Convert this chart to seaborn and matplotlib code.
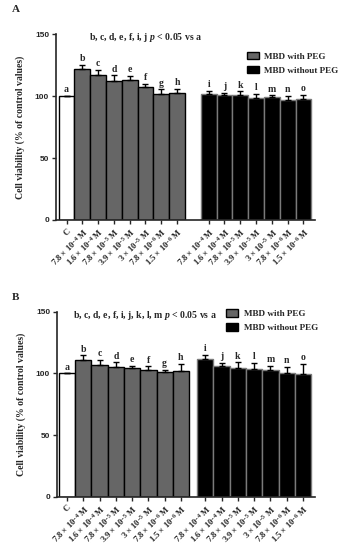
import numpy as np
import pandas as pd
import matplotlib
matplotlib.use("Agg")
import matplotlib.pyplot as plt
import matplotlib.patches as mpatches
import seaborn as sns

sns.set_style("ticks")
plt.rcParams['font.family'] = ['Liberation Serif', 'DejaVu Serif']
plt.rcParams['mathtext.fontset'] = 'custom'
plt.rcParams['mathtext.rm'] = 'Liberation Serif:bold'
plt.rcParams['mathtext.bf'] = 'Liberation Serif:bold'
plt.rcParams['mathtext.it'] = 'Liberation Serif:bold:italic'

# concentrations (same for both series)
conc = ["7.8 × 10$^{-4}$ M", "1.6 × 10$^{-4}$ M", "7.8 × 10$^{-5}$ M",
        "3.9 × 10$^{-5}$ M", "3 × 10$^{-5}$ M", "7.8 × 10$^{-6}$ M",
        "1.5 × 10$^{-6}$ M"]
tick_labels = ["C"] + conc + conc
letters = list("abcdefghijklmno")
groups = ["control"] + ["with"] * 7 + ["without"] * 7

# panel A
a_vals = [100, 122.0, 117.2, 112.4, 113.2, 107.5, 101.9, 102.4,
          101.9, 100.8, 100.5, 98.1, 98.9, 97.0, 97.3]
a_err = [0, 3.2, 3.8, 4.3, 3.2, 2.4, 3.5, 3.2,
         2.1, 1.9, 3.2, 3.5, 1.6, 3.0, 3.5]
a_note = "b, c, d, e, f, i, j $p$ < 0.05 vs a"

# panel B
b_vals = [100, 110.8, 106.7, 105.1, 104.0, 103.0, 101.3, 102.2,
          111.6, 105.6, 104.6, 103.8, 102.7, 100.6, 99.5]
b_err = [0, 3.8, 4.0, 3.8, 2.4, 2.7, 1.6, 5.6,
         3.5, 3.2, 4.3, 4.8, 3.2, 4.8, 8.0]
b_note = "b, c, d, e, f, i, j, k, l, m $p$ < 0.05 vs a"

palette = {"control": "white", "with": "#666666", "without": "black"}
edges = {"control": "black", "with": "black", "without": "#7a7a7a"}

fig = plt.figure(figsize=(3.42, 5.5), dpi=100)


def panel(rect, vals, errs, gap, note, note_x, leg_xy, xlim):
    ax = fig.add_axes(rect)
    xpos = np.array(list(range(8)) + [8 + gap + i for i in range(7)], dtype=float)
    df = pd.DataFrame({"x": xpos, "y": vals, "g": groups})
    sns.barplot(data=df, x="x", y="y", hue="g", palette=palette,
                native_scale=True, dodge=False, width=1.0, legend=False,
                errorbar=None, ax=ax)
    # edge colours per group
    for p in ax.patches:
        fc = p.get_facecolor()
        if fc[0] > 0.9:
            p.set_edgecolor(edges["control"])
        elif fc[0] > 0.2:
            p.set_edgecolor(edges["with"])
        else:
            p.set_edgecolor(edges["without"])
        p.set_linewidth(1.0)
    ax.errorbar(xpos, vals, yerr=[np.zeros(len(errs)), errs], fmt="none",
                ecolor="black", elinewidth=1.0, capsize=2.2, capthick=1.0, zorder=5)
    for x, v, e, l in zip(xpos, vals, errs, letters):
        ax.text(x, v + e + 1.5, l, ha="center", va="bottom", fontsize=7,
                fontweight="bold")
    ax.set_ylim(0, 150)
    ax.set_xlim(*xlim)
    ax.set_yticks([0, 50, 100, 150])
    ax.set_yticklabels(["0", "50", "100", "150"], family="Liberation Sans",
                       fontweight="bold", fontsize=6)
    ax.set_xticks(xpos)
    ax.set_xticklabels(tick_labels, rotation=45, ha="right",
                       rotation_mode="anchor", fontsize=6.2, fontweight="bold")
    ax.set_xlabel("")
    ax.set_ylabel("Cell viability (% of control values)", fontsize=7,
                  fontweight="bold", labelpad=7)
    ax.tick_params(axis="both", length=3, width=1, pad=2)
    sns.despine(ax=ax)
    for s in ["left", "bottom"]:
        ax.spines[s].set_linewidth(1.2)
    ax.text(note_x, 147, note, fontsize=7, fontweight="bold", va="center")
    handles = [mpatches.Patch(facecolor="#666666", edgecolor="black", label="MBD with PEG"),
               mpatches.Patch(facecolor="black", edgecolor="black", label="MBD without PEG")]
    leg = fig.legend(handles=handles, loc="upper left", bbox_to_anchor=leg_xy,
                     bbox_transform=fig.transFigure,
                     frameon=False, fontsize=6.6, handlelength=1.3, handleheight=0.9,
                     handletextpad=0.6, labelspacing=0.55, borderaxespad=0,
                     borderpad=0)
    for t in leg.get_texts():
        t.set_fontweight("bold")
    return ax


panel([0.164, 0.6, 0.757, 0.338], a_vals, a_err, 1.0, a_note, 1.4,
      (0.722, 0.906), (-0.66, 15.73))
panel([0.167, 0.0964, 0.754, 0.337], b_vals, b_err, 0.5, b_note, 0.35,
      (0.662, 0.438), (-0.61, 15.24))

fig.text(0.035, 0.982, "A", fontsize=8, fontweight="bold", va="center")
fig.text(0.035, 0.46, "B", fontsize=8, fontweight="bold", va="center")

fig.savefig("out.png", dpi=100)
